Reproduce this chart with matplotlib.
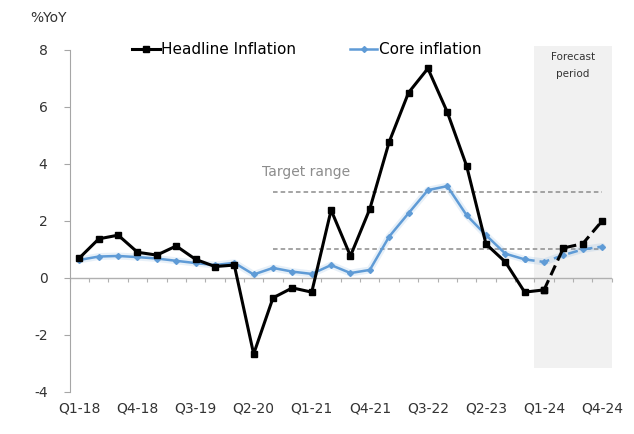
import numpy as np
import matplotlib
matplotlib.use("Agg")
import matplotlib.pyplot as plt
from matplotlib.lines import Line2D

plt.rcParams["axes.unicode_minus"] = False

# -------------------------------
# DATA
# -------------------------------

quarters = [f"Q{q}-{y}" for y in range(18, 25) for q in range(1, 5)]
tick_labels = ["Q1-18", "Q4-18", "Q3-19", "Q2-20", "Q1-21",
               "Q4-21", "Q3-22", "Q2-23", "Q1-24", "Q4-24"]

headline = [0.70, 1.37, 1.50, 0.90, 0.80, 1.12, 0.65, 0.40, 0.45, -2.67,
            -0.70, -0.35, -0.50, 2.38, 0.77, 2.42, 4.77, 6.50, 7.35, 5.82,
            3.93, 1.19, 0.56, -0.50, -0.42, 1.05, 1.20, 2.00]
core = [0.63, 0.75, 0.77, 0.73, 0.68, 0.60, 0.52, 0.45, 0.53, 0.12,
        0.35, 0.22, 0.14, 0.45, 0.17, 0.28, 1.45, 2.27, 3.08, 3.22,
        2.20, 1.50, 0.85, 0.65, 0.56, 0.80, 1.00, 1.10]

target_low, target_high = 1, 3
forecast_start = "Q1-24"

# -------------------------------
# PLOT
# -------------------------------

x = np.arange(len(quarters))
fc = quarters.index(forecast_start)

fig = plt.figure(figsize=(6.34, 4.34), dpi=100)
ax = fig.add_axes([0.110, 0.097, 0.855, 0.788])
ax.set_xlim(-0.5, len(quarters) - 0.5)
ax.set_ylim(-4, 8)

# forecast shading
ax.fill_between([fc - 0.5, len(quarters) - 0.5], -3.15, 8.15,
                color="#f1f1f1", zorder=0, clip_on=False, linewidth=0)
ax.text(fc + 1.5, 7.45, "Forecast\nperiod", ha="center", va="center",
        fontsize=7.5, color="#333333", linespacing=1.9)

# target range
ax.hlines([target_low, target_high], 10, len(quarters) - 1,
          colors="#8c8c8c", linestyles=(0, (3, 2)), linewidth=1.1, zorder=1)
ax.text(11.7, 3.7, "Target range", ha="center", va="center",
        fontsize=10, color="#8c8c8c")

# zero line
ax.axhline(0, color="#b0b0b0", linewidth=1, zorder=1)

blue = "#5f9bd6"
# core inflation (soft halo + line)
ax.plot(x, core, color=blue, linewidth=5, alpha=0.15, zorder=2,
        solid_capstyle="round")
ax.plot(x[:fc], core[:fc], color=blue, linewidth=1.8, marker="D",
        markersize=3, zorder=3)
ax.plot(x[fc - 1:], core[fc - 1:], color=blue, linewidth=1.8, marker="D",
        markersize=3, linestyle=(0, (4, 2)), zorder=3)

# headline inflation
ax.plot(x[:fc + 1], headline[:fc + 1], color="black", linewidth=2.2,
        marker="s", markersize=4.5, zorder=4)
ax.plot(x[fc:], headline[fc:], color="black", linewidth=2.2,
        marker="s", markersize=4.5, linestyle=(0, (3.5, 1.8)), zorder=4)

# axes styling
for side in ["top", "right", "bottom"]:
    ax.spines[side].set_visible(False)
ax.spines["left"].set_color("#a6a6a6")
ax.set_yticks(range(-4, 9, 2))
ax.tick_params(axis="y", colors="#a6a6a6", labelcolor="#333333",
               labelsize=10, length=4, direction="out", pad=12)

ax.set_xticks(x[::3])
ax.set_xticklabels(tick_labels)
ax.tick_params(axis="x", length=0, labelsize=10, labelcolor="#333333", pad=7)

# category ticks on the zero line
zero_axis = ax.secondary_xaxis(4 / 12)
zero_axis.spines["bottom"].set_visible(False)
zero_axis.set_xticks(np.arange(-0.5, len(quarters), 1))
zero_axis.set_xticklabels([])
zero_axis.tick_params(length=3, color="#b0b0b0", direction="out")

fig.text(30 / 634, 1 - 18 / 434, "%YoY", fontsize=10, color="#333333",
         va="center")

handles = [
    Line2D([], [], color="black", linewidth=2.2, marker="s", markersize=4),
    Line2D([], [], color=blue, linewidth=1.8, marker="D", markersize=3),
]
ax.legend(handles, ["Headline Inflation", "Core inflation"], ncol=2,
          frameon=False, fontsize=11, handlelength=1.8, handletextpad=0.1,
          columnspacing=3.5, loc="center left",
          bbox_to_anchor=(0.09, 1.0))

fig.savefig("out.png", dpi=100)
